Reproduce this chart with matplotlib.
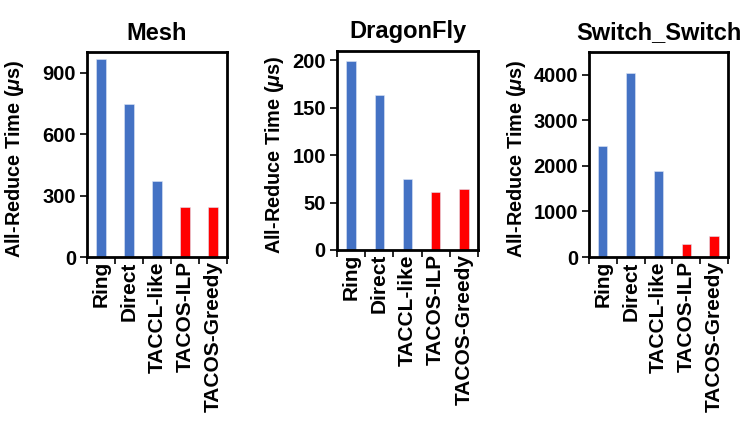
import numpy as np
import matplotlib
matplotlib.use('Agg')
from matplotlib import pyplot as plt
from matplotlib.ticker import FixedLocator

plt.rcParams['font.family'] = ['Liberation Sans', 'DejaVu Sans']
plt.rcParams['font.weight'] = 'bold'
plt.rcParams['mathtext.fontset'] = 'custom'
plt.rcParams['mathtext.it'] = 'Liberation Sans:italic:bold'
plt.rcParams['mathtext.rm'] = 'Liberation Sans:bold'

algorithms = ['Ring', 'Direct', 'TACCL-like', 'TACOS-ILP', 'TACOS-Greedy']
topologies = ['Mesh', 'DragonFly', 'Switch_Switch']

mesh_times = [965, 747, 370, 246, 246]
dragonfly_times = [199, 163, 75, 61, 64]
switch_times = [2440, 4030, 1885, 290, 455]

y_limits = [1000, 210, 4500]
y_ticks = [[0, 300, 600, 900], [0, 50, 100, 150, 200], [0, 1000, 2000, 3000, 4000]]

colors = ['#4472C4', '#4472C4', '#4472C4', '#FF0000', '#FF0000']

# axes boxes in figure fraction: left, bottom, width, height
boxes = [
    [0.1165, 0.3995, 0.1875, 0.479],
    [0.451, 0.416, 0.189, 0.4655],
    [0.7885, 0.3995, 0.186, 0.479],
]
label_x = [-0.435, -0.36, -0.437]


def draw_panel(fig, box, title, values, ylim, yticks, lx):
    ax = fig.add_axes(box)
    x = np.arange(len(algorithms))
    ax.bar(x, values, width=0.33, color=colors, edgecolor='#dde6f5', linewidth=0.4)
    ax.set_xlim(-0.5, len(algorithms) - 0.5)
    ax.set_ylim(0, ylim)
    ax.set_yticks(yticks)
    ax.set_xticks(x)
    ax.set_xticklabels(algorithms, rotation=90, fontsize=15, fontweight='bold')
    ax.xaxis.set_minor_locator(FixedLocator(np.arange(len(algorithms) + 1) - 0.5))
    ax.tick_params(axis='x', which='major', length=0, pad=3)
    ax.tick_params(axis='x', which='minor', length=5, width=1.2, direction='out')
    ax.tick_params(axis='y', length=5, width=1.2, direction='out', labelsize=14.5, pad=3)
    for lab in ax.get_yticklabels():
        lab.set_fontweight('bold')
    for sp in ax.spines.values():
        sp.set_linewidth(2)
    ax.set_title(title, fontsize=17, fontweight='bold', pad=9)
    ax.set_ylabel('All-Reduce Time ($\\mu$s)', fontsize=14.3, fontweight='bold')
    ax.yaxis.set_label_coords(lx, 0.48)
    return ax


fig = plt.figure(figsize=(7.47, 4.28), dpi=100)
all_values = [mesh_times, dragonfly_times, switch_times]
for i in range(3):
    draw_panel(fig, boxes[i], topologies[i], all_values[i], y_limits[i], y_ticks[i], label_x[i])

fig.savefig('out.png', dpi=100)
